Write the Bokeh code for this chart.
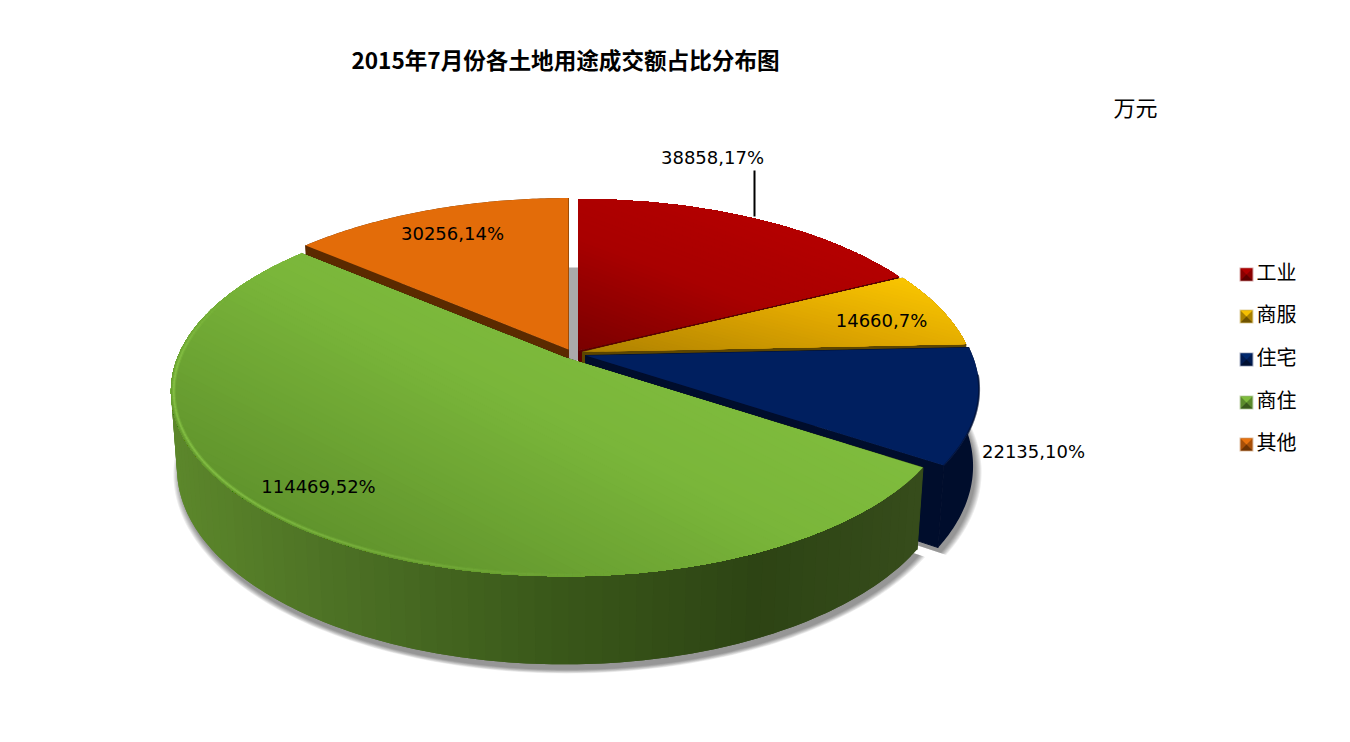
import math
import numpy as np
from bokeh.plotting import figure
from bokeh.models import Range1d
from bokeh.core.properties import value
from bokeh.embed import file_html
from bokeh.resources import INLINE

# ---- data ----
categories = ["工业", "商服", "住宅", "商住", "其他"]
amounts = [38858, 14660, 22135, 114469, 30256]
point_labels = ["38858,17%", "14660,7%", "22135,10%", "114469,52%", "30256,14%"]
title_text = "2015年7月份各土地用途成交额占比分布图"
unit_text = "万元"

# ---- layout and style ----
W, H = 1334, 726
APEX = [(578, 350), (582, 351.5), (585, 355), (564, 357), (568, 349)]
R, S, K, DEPTH, M = 387.0, 179.0, 0.182, 76.6, 0.015
LABEL_POS = [(712, 157), (881, 320), (1033, 451), (318, 486), (452, 233)]
LEGEND_Y = [274, 316, 359, 402, 444]
WALL = ["#5b0000", "#5c4500", "#000d2c", None, "#5b2a00"]
TOP_GRAD = [
    ((0.35, -0.93), [(0, "#7a0000"), (0.55, "#a80000"), (1, "#b40000")]),
    ((0.25, -0.97), [(0, "#ad8000"), (0.55, "#dca400"), (1, "#f9c500")]),
    ((0, 1), [(0, "#001f5f"), (1, "#001f5f")]),
    ((-0.45, 0.9), [(0, "#7fbc3d"), (0.35, "#7ab63a"), (1, "#60932c")]),
    ((0, 1), [(0, "#e36c09"), (1, "#e36c09")]),
]
GREEN_WALL = [(172, "#5c872b"), (350, "#4b6f24"), (560, "#395719"), (760, "#2d4414"), (920, "#364c1b")]
SWATCH = [("#b00000", "#8a0000", "#5e0000"), ("#f5bf00", "#a88000", "#6e5200"),
          ("#00286e", "#001a50", "#000f30"), ("#7fbc3d", "#5b8a2c", "#3a5a1c"),
          ("#e8720d", "#a85008", "#6e3404")]


def rgb(c):
    return [int(c[i:i + 2], 16) for i in (1, 3, 5)]


def ramp(stops, t):
    t = max(stops[0][0], min(stops[-1][0], t))
    for (a, ca), (b, cb) in zip(stops, stops[1:]):
        if t <= b:
            f = 0 if b == a else (t - a) / (b - a)
            c = [round(x + (y - x) * f) for x, y in zip(rgb(ca), rgb(cb))]
            return "#%02x%02x%02x" % tuple(c)
    return stops[-1][1]


def top_pt(apex, th):
    u, v = math.sin(th), math.cos(th)
    d = 1 + K * v
    return apex[0] + R * u / d, apex[1] - S * v / d


def bot_pt(apex, th):
    u, v = math.sin(th), math.cos(th)
    d = 1 + K * v + M
    return apex[0] + R * u / d, apex[1] + (DEPTH - S * v) / d


def apex_bot(apex):
    return apex[0], apex[1] + DEPTH / (1 + M)


def clip_above(pts, n, lim):
    out = []
    for i in range(len(pts)):
        a, b = pts[i], pts[(i + 1) % len(pts)]
        da = a[0] * n[0] + a[1] * n[1] - lim
        db = b[0] * n[0] + b[1] * n[1] - lim
        if da >= 0:
            out.append(a)
        if da * db < 0:
            f = da / (da - db)
            out.append((a[0] + (b[0] - a[0]) * f, a[1] + (b[1] - a[1]) * f))
    return out


p = figure(width=W, height=H, x_range=Range1d(0, W), y_range=Range1d(H, 0),
           x_axis_type=None, y_axis_type=None, toolbar_location=None,
           output_backend="svg", min_border=0, outline_line_color=None,
           background_fill_color="white", border_fill_color="white")
p.grid.visible = False

total = sum(amounts)
edges = np.cumsum([0] + amounts) / total * 2 * math.pi
spans = list(zip(edges[:-1], edges[1:]))

# soft shadow below the front slices
for idx in (3, 2):
    a0, a1 = spans[idx]
    ths = np.linspace(a0, a1, 160)
    for d in (6, 5, 4, 3, 2, 1, 0):
        ax, ay = apex_bot(APEX[idx])
        sc = 1 + d / R
        pts = [bot_pt(APEX[idx], t) for t in ths] + [(ax, ay)]
        xs = [ax + (x - ax) * sc + 2.5 for x, y in pts]
        ys = [ay + (y - ay) * sc + 5.5 for x, y in pts]
        p.patch(xs, ys, fill_color="#000000", fill_alpha=0.07, line_color=None)

# grey gap between the first and the last slice
p.quad(left=[APEX[4][0]], right=[APEX[0][0]], top=[267], bottom=[360],
       fill_color="#aaaaaa", line_color=None)

for idx in (4, 0, 1, 2, 3):
    a0, a1 = spans[idx]
    apex = APEX[idx]
    ab = apex_bot(apex)
    face = WALL[idx] or "#354c1a"
    # two cut faces
    for th in (a0, a1):
        pt, pb = top_pt(apex, th), bot_pt(apex, th)
        p.patch([apex[0], pt[0], pb[0], ab[0]], [apex[1], pt[1], pb[1], ab[1]],
                fill_color=face, line_color=face, line_width=1)
    # outer wall: each later strip overlaps the earlier one, so no seams show
    n = max(4, int((a1 - a0) / 0.012))
    ths = list(np.linspace(a0, a1, n + 1))
    if WALL[idx]:
        tp = [top_pt(apex, t) for t in ths]
        bp = [bot_pt(apex, t) for t in ths]
        q = tp + bp[::-1]
        p.patch([c[0] for c in q], [c[1] for c in q], fill_color=face, line_color=None)
    else:
        sx, sy, sc = [], [], []
        sub = ths[::3] + [ths[-1]]
        for i in range(len(sub) - 1):
            t0, t1 = sub[i], sub[min(i + 2, len(sub) - 1)]
            mid = np.linspace(t0, t1, 5)
            tp = [top_pt(apex, t) for t in mid]
            bp = [bot_pt(apex, t) for t in mid]
            q = tp + bp[::-1]
            sx.append([c[0] for c in q])
            sy.append([c[1] for c in q])
            sc.append(ramp(GREEN_WALL, top_pt(apex, (sub[i] + sub[i + 1]) / 2)[0]))
        p.patches(sx, sy, fill_color=sc, line_color=None)
    # top face: nested polygons along the gradient direction
    arc = [top_pt(apex, t) for t in ths]
    poly = [apex] + arc
    nv, stops = TOP_GRAD[idx]
    proj = [c[0] * nv[0] + c[1] * nv[1] for c in poly]
    lo, hi = min(proj), max(proj)
    steps = 50 if stops[0][1] != stops[-1][1] else 1
    for i in range(steps):
        l = lo + (hi - lo) * i / steps
        c = clip_above(poly, nv, l) if i else poly
        if len(c) >= 3:
            p.patch([q[0] for q in c], [q[1] for q in c],
                    fill_color=ramp(stops, (i + 0.5) / steps), line_color=None)

# bevel: light rim on the green slice, dark rim on the blue slice
a0, a1 = spans[3]
ths = np.linspace(a0, a1, 200)
rx, ry, ra = [], [], []
for t0, t1 in zip(ths[:-1], ths[1:]):
    deg = math.degrees((t0 + t1) / 2)
    if deg < 172 or deg > 292:
        continue
    q0, q1 = top_pt(APEX[3], t0), top_pt(APEX[3], t1)
    ax, ay = APEX[3]
    rx.append([ax + (q0[0] - ax) * 0.993, ax + (q1[0] - ax) * 0.993])
    ry.append([ay + (q0[1] - ay) * 0.993, ay + (q1[1] - ay) * 0.993])
    ra.append(min(1.0, (deg - 172) / 60) * min(1.0, (292 - deg) / 25))
p.multi_line(rx, ry, line_color="#8cc94a", line_alpha=[0.3 * a for a in ra], line_width=4)
p.multi_line(rx, ry, line_color="#8cc94a", line_alpha=[0.6 * a for a in ra], line_width=1.8)

a0, a1 = spans[2]
pts = [top_pt(APEX[2], t) for t in np.linspace(a0 + 0.15, a1, 60)]
p.line([c[0] for c in pts], [c[1] for c in pts], line_color="#000f35", line_width=2, line_alpha=0.7)

# leader line of the first label
p.line([754, 754], [170, 216], line_color="#000000", line_width=2)

# point labels
p.text([c[0] for c in LABEL_POS], [c[1] for c in LABEL_POS], text=point_labels,
       text_font=value("DejaVu Sans"), text_font_size="18px", text_color="#000000",
       text_align="center", text_baseline="middle")

# title and unit
p.text([565], [59], text=[title_text], text_font=value("Noto Sans CJK SC"),
       text_font_size="22.6px", text_font_style="bold", text_color="#000000",
       text_align="center", text_baseline="middle")
p.text([1135], [105], text=[unit_text], text_font=value("Noto Sans CJK SC"),
       text_font_size="22px", text_color="#000000", text_align="center",
       text_baseline="middle")

# legend
for name, yc, cols in zip(categories, LEGEND_Y, SWATCH):
    x0, x1 = 1240, 1252
    xc = (x0 + x1) / 2
    y0, y1 = yc - 6, yc + 6
    p.quad(left=[x0 - 1], right=[x1 + 1], top=[y0 - 1], bottom=[y1 + 1],
           fill_color=cols[1], fill_alpha=0.35, line_color=None)
    p.patch([x0, x1, x1, x0], [y0, y0, y1, y1], fill_color=cols[1], line_color=None)
    p.patch([x0, x1, xc], [y0, y0, yc], fill_color=cols[0], line_color=None)
    p.patch([x0, x1, xc], [y1, y1, yc], fill_color=cols[2], line_color=None)
    p.text([1256], [yc - 3], text=[name], text_font=value("Noto Sans CJK SC"),
           text_font_size="20px", text_color="#000000", text_align="left",
           text_baseline="middle")

open("out.html", "w").write(file_html(p, INLINE))
